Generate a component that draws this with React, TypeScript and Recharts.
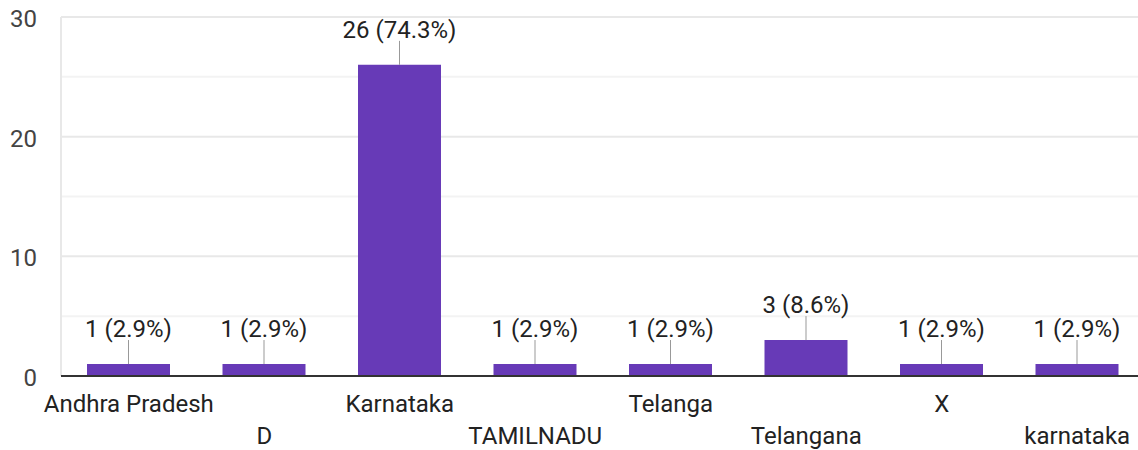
import { BarChart, Bar, XAxis, YAxis, CartesianGrid, LabelList } from "recharts";

const categories = ["Andhra Pradesh", "D", "Karnataka", "TAMILNADU", "Telanga", "Telangana", "X", "karnataka"];
const counts = [1, 1, 26, 1, 1, 3, 1, 1];
const yTicks = [0, 10, 20, 30];
const minorGrid = [5, 15, 25];

const total = counts.reduce((a, b) => a + b, 0);
const data = categories.map((name, i) => ({ name, count: counts[i] }));

const FONT = "Roboto, Arial, sans-serif";

const ValueLabel = (props: any) => {
  const { x, y, width, value } = props;
  const cx = x + width / 2;
  const pct = ((value / total) * 100).toFixed(1);
  return (
    <g>
      <line x1={cx} x2={cx} y1={y - 24} y2={y} stroke="#999" strokeWidth={1} />
      <text x={cx} y={y - 27} textAnchor="middle" fontSize={24} fontFamily={FONT} fill="#222">
        {`${value} (${pct}%)`}
      </text>
    </g>
  );
};

const XTick = (props: any) => {
  const { x, y, payload, index } = props;
  const i = payload?.index ?? index;
  return (
    <text x={x} y={y + (i % 2 === 0 ? 36 : 68)} textAnchor="middle" fontSize={24} fontFamily={FONT} fill="#222">
      {payload.value}
    </text>
  );
};

const YTick = (props: any) => {
  const { x, y, payload } = props;
  return (
    <text x={x - 24} y={y + 10} textAnchor="end" fontSize={24} fontFamily={FONT} fill="#444">
      {payload.value}
    </text>
  );
};

export default function App() {
  return (
    <div style={{ position: "absolute", left: 0, top: 0, width: 1138, height: 450, overflow: "hidden", background: "#fff" }}>
      <BarChart width={1145} height={450} data={data} margin={{ top: 17, right: 0, bottom: 73, left: 0 }}>
        <CartesianGrid vertical={false} horizontalValues={minorGrid} stroke="#f3f3f3" strokeWidth={2} />
        <CartesianGrid vertical={false} horizontalValues={yTicks} stroke="#e8e8e8" strokeWidth={2} />
        <YAxis
          width={61}
          domain={[0, 30]}
          ticks={yTicks}
          interval={0}
          tickLine={false}
          tickSize={0}
          tickMargin={0}
          axisLine={{ stroke: "#e8e8e8", strokeWidth: 2 }}
          tick={<YTick />}
        />
        <XAxis
          dataKey="name"
          height={1}
          interval={0}
          tickLine={false}
          tickSize={0}
          tickMargin={0}
          axisLine={{ stroke: "#333", strokeWidth: 2 }}
          tick={<XTick />}
        />
        <Bar dataKey="count" fill="#673ab7" barSize={83} isAnimationActive={false}>
          <LabelList dataKey="count" content={<ValueLabel />} />
        </Bar>
      </BarChart>
    </div>
  );
}
